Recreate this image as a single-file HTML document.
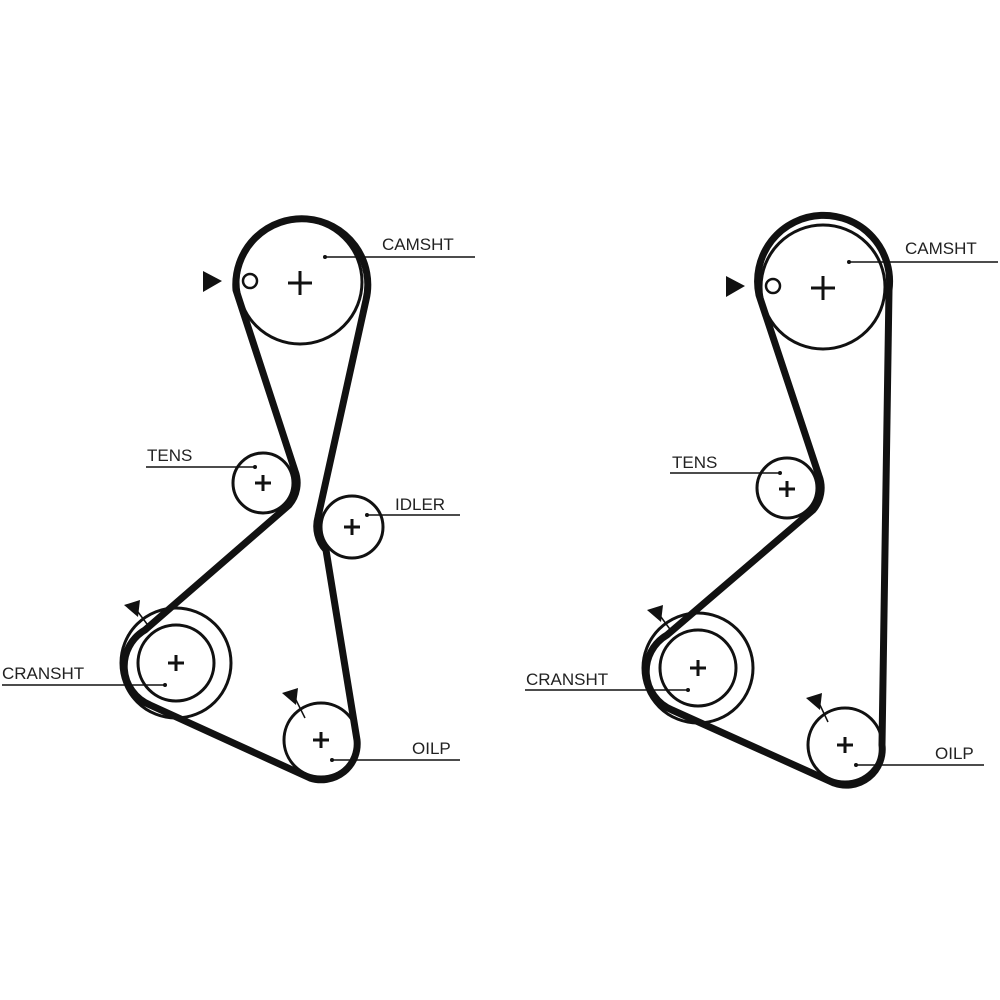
<!DOCTYPE html>
<html><head><style>
html,body{margin:0;padding:0;background:#fff;}
svg{display:block}
text{font-family:"Liberation Sans",sans-serif;font-size:17px;fill:#222;}
</style></head><body>
<svg width="1000" height="1000" viewBox="0 0 1000 1000">
<g fill="none" stroke="#111">
<!-- LEFT -->
<circle cx="300" cy="282" r="62" stroke-width="3"/>
<circle cx="263" cy="483" r="30" stroke-width="3"/>
<circle cx="352" cy="527" r="31" stroke-width="3"/>
<circle cx="176" cy="663" r="38" stroke-width="3"/>
<circle cx="176" cy="663" r="55" stroke-width="3"/>
<circle cx="321" cy="740" r="37" stroke-width="3"/>
<path d="M236,290 A66,66 0 1 1 366,300 L318,517 A35,35 0 0 0 326,550 L357,740 A36,36 0 0 1 310,778 L150,705 A42,42 0 0 1 145,630 L289,505 A34,34 0 0 0 295,471 Z" stroke-width="7" stroke-linejoin="round"/>
<!-- RIGHT -->
<circle cx="823" cy="287" r="62" stroke-width="3"/>
<circle cx="787" cy="488" r="30" stroke-width="3"/>
<circle cx="698" cy="668" r="38" stroke-width="3"/>
<circle cx="698" cy="668" r="55" stroke-width="3"/>
<circle cx="845" cy="745" r="37" stroke-width="3"/>
<path d="M759,295 A66,66 0 1 1 889,290 L882,745 A36,36 0 0 1 834,783 L672,710 A42,42 0 0 1 667,635 L813,510 A34,34 0 0 0 819,476 Z" stroke-width="7" stroke-linejoin="round"/>
</g>
<g stroke="#111" stroke-width="3">
<path d="M288,283h24M300,271v24M255,483h16M263,475v16M344,527h16M352,519v16M168,663h16M176,655v16M313,740h16M321,732v16"/>
<path d="M811,288h24M823,276v24M779,489h16M787,481v16M690,668h16M698,660v16M837,745h16M845,737v16"/>
</g>
<g fill="none" stroke="#111" stroke-width="2.5">
<circle cx="250" cy="281" r="7"/><circle cx="773" cy="286" r="7"/>
</g>
<g fill="#111">
<polygon points="203,271 222,281 203,292"/>
<polygon points="726,276 745,286 726,297"/>
<polygon points="124,605 140,600 138,617"/>
<polygon points="282,693 298,688 296,705"/>
<polygon points="647,610 663,605 661,622"/>
<polygon points="806,698 822,693 820,710"/>
</g>
<g stroke="#111" stroke-width="1.5" fill="none">
<path d="M138,612 L150,628 M296,700 L305,718 M661,617 L672,632 M820,705 L828,722"/>
<path d="M325,257H475 M146,467H255 M367,515H460 M2,685H165 M332,760H460"/>
<path d="M849,262H998 M670,473H780 M525,690H688 M856,765H984"/>
</g>
<g fill="#111">
<circle cx="325" cy="257" r="2"/><circle cx="255" cy="467" r="2"/><circle cx="367" cy="515" r="2"/><circle cx="165" cy="685" r="2"/><circle cx="332" cy="760" r="2"/>
<circle cx="849" cy="262" r="2"/><circle cx="780" cy="473" r="2"/><circle cx="688" cy="690" r="2"/><circle cx="856" cy="765" r="2"/>
</g>
<text x="382" y="250">CAMSHT</text>
<text x="147" y="461">TENS</text>
<text x="395" y="510">IDLER</text>
<text x="2" y="679">CRANSHT</text>
<text x="412" y="754">OILP</text>
<text x="905" y="254">CAMSHT</text>
<text x="672" y="468">TENS</text>
<text x="526" y="685">CRANSHT</text>
<text x="935" y="759">OILP</text>
</svg>
</body></html>
